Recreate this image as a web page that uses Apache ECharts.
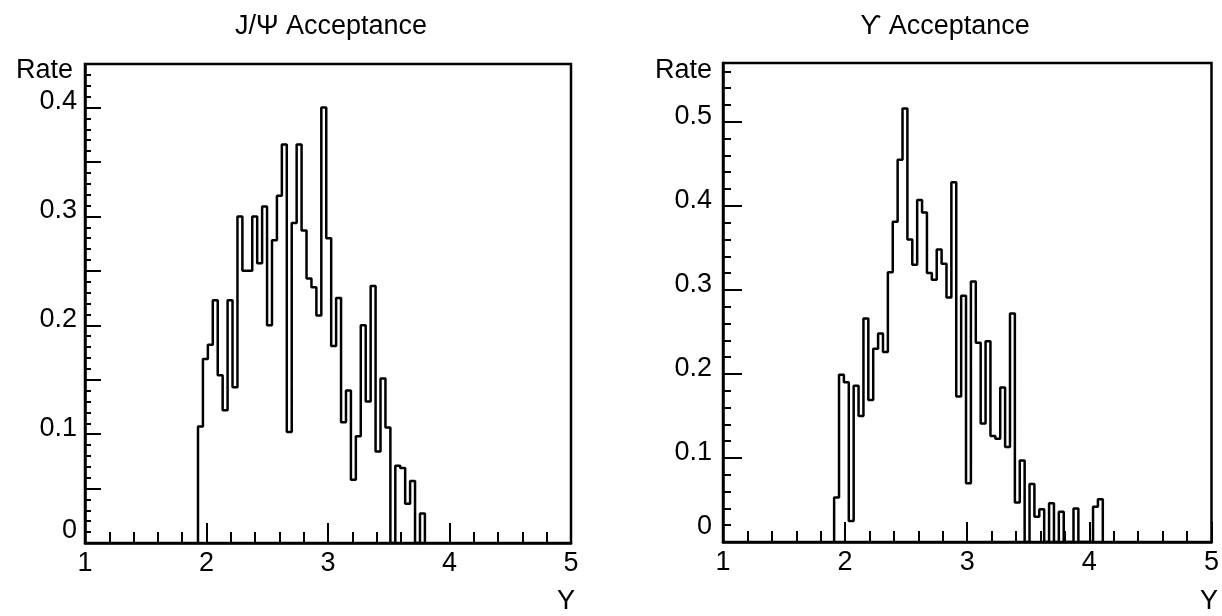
<!DOCTYPE html>
<html>
<head>
<meta charset="utf-8">
<title>Acceptance</title>
<script src="https://cdn.jsdelivr.net/npm/echarts@6/dist/echarts.min.js"></script>
<style>
  html, body { margin: 0; padding: 0; background: #fff; }
  #chart { width: 1222px; height: 616px; }
</style>
</head>
<body>
<div id="chart"></div>
<script>
// rapidity range shown on both panels
const yRange = [1, 5];

// J/Psi: bin contents, first bin edge + bin width
const jpsiStart = 1.93;
const jpsiWidth = 0.0406;
const jpsiRate = [
  0.107, 0.169, 0.182, 0.223, 0.154, 0.122, 0.223, 0.143, 0.300, 0.250,
  0.250, 0.300, 0.257, 0.309, 0.200, 0.278, 0.319, 0.366, 0.102, 0.294,
  0.366, 0.287, 0.243, 0.235, 0.209, 0.400, 0.280, 0.181, 0.225, 0.111,
  0.140, 0.058, 0.098, 0.200, 0.130, 0.236, 0.084, 0.151, 0.106, 0,
  0.071, 0.069, 0.036, 0.057, 0, 0.027
];
const jpsiMax = 0.44;

// Upsilon
const upsStart = 1.91;
const upsWidth = 0.04;
const upsRate = [
  0.053, 0.199, 0.190, 0.025, 0.186, 0.150, 0.266, 0.169, 0.230, 0.248,
  0.226, 0.321, 0.381, 0.455, 0.516, 0.360, 0.330, 0.407, 0.392, 0.320,
  0.312, 0.348, 0.331, 0.291, 0.428, 0.173, 0.293, 0.070, 0.310, 0.237,
  0.141, 0.239, 0.126, 0.123, 0.184, 0.113, 0.272, 0.047, 0.097, 0,
  0.069, 0.030, 0.039, 0, 0.046, 0, 0.036, 0, 0, 0.040,
  0, 0, 0, 0.042, 0.051
];
const upsMax = 0.57;

const FONT = "Liberation Sans";
const FS = 27;

// outline of a histogram: flat top per bin, verticals between bins
function histLine(start, width, values) {
  const pts = [[start, 0]];
  values.forEach((v, i) => {
    pts.push([start + i * width, v]);
    pts.push([start + (i + 1) * width, v]);
  });
  pts.push([start + values.length * width, 0]);
  return pts;
}

function isTenth(v) {
  return Math.abs(v * 10 - Math.round(v * 10)) < 1e-6;
}

function xAxisOpt(gridIndex) {
  return {
    type: "value",
    gridIndex: gridIndex,
    min: yRange[0],
    max: yRange[1],
    interval: 1,
    axisLine: { lineStyle: { color: "#000", width: 2.5 } },
    axisTick: { inside: true, length: 20, lineStyle: { color: "#000", width: 2 } },
    minorTick: { show: true, splitNumber: 5, length: 11, lineStyle: { color: "#000", width: 2 } },
    axisLabel: { color: "#000", fontSize: FS, fontFamily: FONT, margin: 7 },
    splitLine: { show: false },
    minorSplitLine: { show: false },
  };
}

// lift: how far labels sit above their tick; zeroLift: "0" sits higher still
function yAxisOpt(gridIndex, max, interval, tickLen, minorLen, gap, lift, zeroLift) {
  return {
    type: "value",
    gridIndex: gridIndex,
    min: 0,
    max: max,
    interval: interval,
    axisLine: { show: true, lineStyle: { color: "#000", width: 2.5 } },
    axisTick: { inside: true, length: tickLen, lineStyle: { color: "#000", width: 2 } },
    minorTick: { show: true, splitNumber: 5, length: minorLen, lineStyle: { color: "#000", width: 2 } },
    axisLabel: {
      color: "#000",
      fontSize: FS,
      fontFamily: FONT,
      margin: gap,
      verticalAlign: "bottom",
      lineHeight: lift * 2,
      formatter: (v) => (isTenth(v) ? (v === 0 ? "{z|0}" : v.toFixed(1)) : ""),
      rich: {
        z: { fontSize: FS, fontFamily: FONT, color: "#000", lineHeight: zeroLift * 2 },
      },
    },
    splitLine: { show: false },
    minorSplitLine: { show: false },
  };
}

function label(text, left, top, align) {
  return {
    text: text,
    left: left,
    top: top,
    textAlign: align,
    padding: 0,
    textStyle: { color: "#000", fontSize: FS, fontWeight: "normal", fontFamily: FONT },
  };
}

const chart = echarts.init(document.getElementById("chart"));
chart.setOption({
  backgroundColor: "#fff",
  animation: false,
  title: [
    label("J/\u03A8 Acceptance", 331, 13, "center"),
    label("Rate", 73, 57, "right"),
    label("Y", 566, 588, "center"),
    label("\u03D2 Acceptance", 945, 13, "center"),
    label("Rate", 712, 57, "right"),
    label("Y", 1209, 588, "center"),
  ],
  grid: [
    { left: 85, right: 651, top: 64, bottom: 73, show: true, borderColor: "#000", borderWidth: 2.5 },
    { left: 723, right: 10, top: 63, bottom: 74, show: true, borderColor: "#000", borderWidth: 2.5 },
  ],
  xAxis: [xAxisOpt(0), xAxisOpt(1)],
  yAxis: [
    yAxisOpt(0, jpsiMax, 0.05, 16, 6, 8, 6, 12),
    yAxisOpt(1, upsMax, 0.1, 19, 8, 11, 5, 15),
  ],
  series: [
    {
      type: "line",
      xAxisIndex: 0,
      yAxisIndex: 0,
      data: histLine(jpsiStart, jpsiWidth, jpsiRate),
      showSymbol: false,
      lineStyle: { color: "#000", width: 2.5 },
    },
    {
      type: "line",
      xAxisIndex: 1,
      yAxisIndex: 1,
      data: histLine(upsStart, upsWidth, upsRate),
      showSymbol: false,
      lineStyle: { color: "#000", width: 2.5 },
    },
  ],
});
</script>
</body>
</html>
